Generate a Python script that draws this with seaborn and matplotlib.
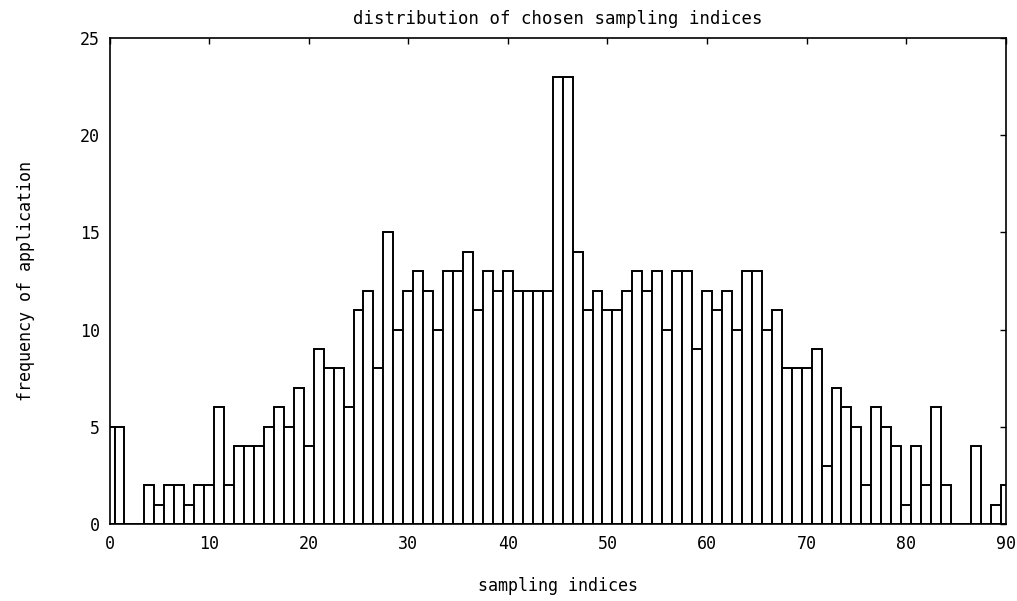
import matplotlib
matplotlib.use("Agg")
import matplotlib.pyplot as plt
import seaborn as sns
import numpy as np
import pandas as pd

# sampling index (0..90) and frequency of application
indices = list(range(0, 91))
frequency = [
    5, 5, 0, 0, 2, 1, 2, 2, 1, 2,      # 0-9
    2, 6, 2, 4, 4, 4, 5, 6, 5, 7,      # 10-19
    4, 9, 8, 8, 6, 11, 12, 8, 15, 10,  # 20-29
    12, 13, 12, 10, 13, 13, 14, 11, 13, 12,  # 30-39
    13, 12, 12, 12, 12, 23, 23, 14, 11, 12,  # 40-49
    11, 11, 12, 13, 12, 13, 10, 13, 13, 9,   # 50-59
    12, 11, 12, 10, 13, 13, 10, 11, 8, 8,    # 60-69
    8, 9, 3, 7, 6, 5, 2, 6, 5, 4,            # 70-79
    1, 4, 2, 6, 2, 0, 0, 4, 0, 1,            # 80-89
    2,                                       # 90
]
x_ticks = [0, 10, 20, 30, 40, 50, 60, 70, 80, 90]
y_ticks = [0, 5, 10, 15, 20, 25]

df = pd.DataFrame({"index": indices, "freq": frequency})

sns.set_theme(style="white")
plt.rcParams["font.family"] = ["DejaVu Sans Mono", "DejaVu Sans"]
plt.rcParams["text.color"] = "black"
plt.rcParams["axes.labelcolor"] = "black"

fig = plt.figure(figsize=(10.17, 6.01), dpi=100)
ax = fig.add_axes([0.1077, 0.128, 0.8813, 0.809])

sns.barplot(data=df, x="index", y="freq", native_scale=True, width=1.0,
            color="white", edgecolor="black", linewidth=1.4, ax=ax,
            errorbar=None, saturation=1)

ax.set_xlim(0, 90)
ax.set_ylim(0, 25)
ax.set_xticks(x_ticks)
ax.set_xticklabels([str(v) for v in x_ticks])
ax.set_yticks(y_ticks)
ax.set_yticklabels([str(v) for v in y_ticks])
ax.tick_params(direction="in", top=True, right=True, length=4, width=1,
               colors="black", labelsize=12)
ax.tick_params(axis="x", pad=8)
ax.tick_params(axis="y", pad=7)
for s in ax.spines.values():
    s.set_visible(True)
    s.set_color("black")
    s.set_linewidth(1.2)

ax.set_title("distribution of chosen sampling indices", fontsize=12.5, pad=10,
             color="black")
ax.set_xlabel("sampling indices", fontsize=12, labelpad=17)
ax.set_ylabel("frequency of application", fontsize=12, labelpad=32)

fig.savefig("out.png", dpi=100, facecolor="white")
